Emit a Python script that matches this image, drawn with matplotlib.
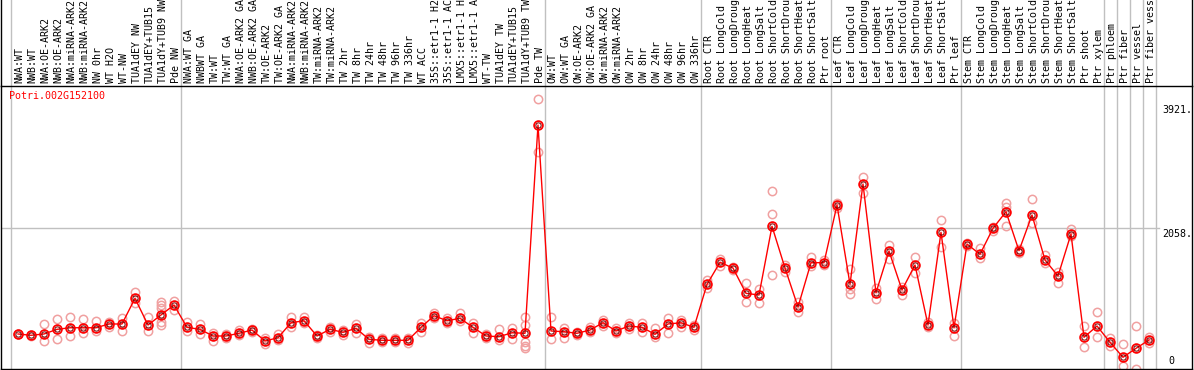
import matplotlib
matplotlib.use('Agg')
import matplotlib.pyplot as plt
from matplotlib.lines import Line2D
from matplotlib.transforms import blended_transform_factory

gene = 'Potri.002G152100'

samples = [
    'NWA:WT', 'NWB:WT', 'NWA:OE-ARK2', 'NWB:OE-ARK2', 'NWA:miRNA-ARK2',
    'NWB:miRNA-ARK2', 'NW 0hr', 'WT H2O', 'WT-NW', 'TUA1dEY NW',
    'TUA1dEY+TUB15', 'TUA1dY+TUB9 NW', 'Pde NW',
    'NWA:WT GA', 'NWBWT GA', 'TW:WT', 'TW:WT GA', 'NWA:OE-ARK2 GA',
    'NWB:OE-ARK2 GA', 'TW:OE-ARK2', 'TW:OE-ARK2 GA', 'NWA:miRNA-ARK2',
    'NWB:miRNA-ARK2', 'TW:miRNA-ARK2', 'TW:miRNA-ARK2', 'TW 2hr', 'TW 8hr',
    'TW 24hr', 'TW 48hr', 'TW 96hr', 'TW 336hr', 'WT ACC', '35S::etr1-1 H2O',
    '35S::etr1-1 ACC', 'LMX5::etr1-1 H2O', 'LMX5::etr1-1 ACC', 'WT-TW',
    'TUA1dEY TW', 'TUA1dEY+TUB15', 'TUA1dY+TUB9 TW', 'Pde TW',
    'OW:WT', 'OW:WT GA', 'OW:OE-ARK2', 'OW:OE-ARK2 GA', 'OW:miRNA-ARK2',
    'OW:miRNA-ARK2', 'OW 2hr', 'OW 8hr', 'OW 24hr', 'OW 48hr', 'OW 96hr',
    'OW 336hr',
    'Root CTR', 'Root LongCold', 'Root LongDrought', 'Root LongHeat',
    'Root LongSalt', 'Root ShortCold', 'Root ShortDrought', 'Root ShortHeat',
    'Root ShortSalt', 'Ptr root',
    'Leaf CTR', 'Leaf LongCold', 'Leaf LongDrought', 'Leaf LongHeat',
    'Leaf LongSalt', 'Leaf ShortCold', 'Leaf ShortDrought', 'Leaf ShortHeat',
    'Leaf ShortSalt', 'Ptr leaf',
    'Stem CTR', 'Stem LongCold', 'Stem LongDrought', 'Stem LongHeat',
    'Stem LongSalt', 'Stem ShortCold', 'Stem ShortDrought', 'Stem ShortHeat',
    'Stem ShortSalt', 'Ptr shoot', 'Ptr xylem',
    'Ptr phloem', 'Ptr fiber', 'Ptr vessel', 'Ptr fiber vessel',
]

means = [
    534, 515, 534, 601, 624, 624, 624, 678, 678, 1048, 663, 808, 952,
    630, 601, 505, 505, 544, 591, 433, 480, 696, 725, 505, 601, 558, 616,
    457, 443, 443, 443, 630, 797, 725, 760, 630, 505, 495, 552, 544, 3547,
    577, 567, 544, 591, 696, 577, 649, 630, 529, 678, 696, 630,
    1250, 1567, 1485, 1120, 1096, 2087, 1485, 923, 1562, 1562,
    2394, 1250, 2697, 1129, 1730, 1168, 1529, 663, 2000, 624,
    1831, 1683, 2058, 2297, 1735, 2250, 1601, 1370, 1976, 486, 649,
    414, 198, 327, 447,
]

replicates = [
    [534, 534], [505, 525], [678, 433], [746, 457], [783, 505], [746, 552],
    [721, 577], [711, 639], [769, 577], [1135, 976], [783, 577],
    [999, 952, 904, 711, 663], [1009, 880],
    [707, 577], [673, 529], [544, 433], [529, 472], [591, 519], [601, 567],
    [472, 389], [529, 447], [779, 634], [783, 688], [519, 472], [639, 567],
    [591, 519], [673, 552], [495, 408], [476, 418], [469, 418], [472, 408],
    [696, 567], [832, 764], [764, 692], [832, 721], [688, 544], [534, 476],
    [601, 447], [624, 457], [783, 663, 423, 360, 332], [3921, 3162],
    [783, 457], [616, 472], [563, 519], [639, 567], [735, 654], [544, 620],
    [692, 606], [688, 567], [616, 486], [760, 544], [639, 740], [663, 591],
    [1312, 1193], [1611, 1514], [1504, 1460], [1265, 999], [1178, 976],
    [2600, 2260, 1380], [1529, 1432], [855, 995], [1640, 1514], [1600, 1525],
    [2427, 2350], [1467, 1178, 1106], [2793, 2571], [1034, 1197], [1817, 1611],
    [1096, 1211], [1640, 1409], [639, 707], [2177, 1792], [688, 505],
    [1846, 1800], [1769, 1625], [2077, 2020], [2427, 2091, 2369], [1706, 1764],
    [2476, 2139], [1673, 1553], [1432, 1273], [2043, 1940], [649, 342],
    [855, 486],
    [472, 360], [389, 72], [649, 25], [486, 408],
]

# number of samples before each grey divider
group_ends = [13, 41, 53, 63, 73, 84, 85, 86, 87, 88]

scale_labels = [3921, 2058, 0]

W, H = 1194, 370
fig = plt.figure(figsize=(W / 100, H / 100), dpi=100)


def fx(px):
    return px / W


def fy(py):
    return 1 - py / H


mono = 'DejaVu Sans Mono'
grey = '#c0c0c0'

ax = fig.add_axes([fx(1), fy(369), fx(1192) - fx(1), fy(86) - fy(369)])
ax.patch.set_alpha(0)
ax.set_xlim((1 - 18) / 13, (1192 - 18) / 13)
ax.set_ylim(29, 4110)
ax.set_xticks([])
ax.set_yticks([])
for s in ax.spines.values():
    s.set_color('black')
    s.set_linewidth(1)

xs = list(range(len(samples)))
blend = blended_transform_factory(ax.transData, fig.transFigure)

# grey dividers run through the label strip too
for x in [(10.5 - 18) / 13] + [n - 0.5 for n in group_ends]:
    ax.add_line(Line2D([x, x], [fy(369), 1], transform=blend, color=grey,
                       lw=1, clip_on=False, zorder=0))

# outer frame around the label strip
for px in (1, 1192):
    fig.add_artist(Line2D([fx(px), fx(px)], [fy(86), 1], color='black', lw=1))

ax.axhline(2058, xmin=0, xmax=0.972, color=grey, lw=1, zorder=0)

for i, name in enumerate(samples):
    ax.text(i + 0.12, fy(83), name, transform=blend, rotation=90,
            ha='center', va='bottom', family=mono, size=7.2, clip_on=False)

for i, reps in enumerate(replicates):
    ax.plot([i] * len(reps), reps, 'o', ms=6, mfc='none', mec='#f0a0a0',
            mew=1.1, clip_on=False, zorder=2)

ax.plot(xs, means, '-', color='red', lw=1.0, zorder=3)
ax.plot(xs, means, 'o', ms=6.3, mfc='none', mec='red', mew=1.3, zorder=4)
ax.plot(xs, means, 'o', ms=3.8, mfc='none', mec='#700000', mew=0.7, zorder=5)

fig.text(fx(9), fy(91), gene, color='red', ha='left', va='top',
         family=mono, size=7.2)

ytrans = blended_transform_factory(ax.transAxes, ax.transData)
offsets = {3921: (-2, -6, 'top'), 2058: (-2, -1, 'top'), 0: (1, 10, 'center')}
for v in scale_labels:
    dx, dy, va = offsets[v]
    txt = f'{v}.' if v else '0'
    ax.annotate(txt, xy=(0.9765, v), xycoords=ytrans,
                xytext=(dx + (3 if v == 0 else 0), dy),
                textcoords='offset pixels', ha='left', va=va,
                family=mono, size=7.2, annotation_clip=False)

fig.savefig('out.png', dpi=100)
